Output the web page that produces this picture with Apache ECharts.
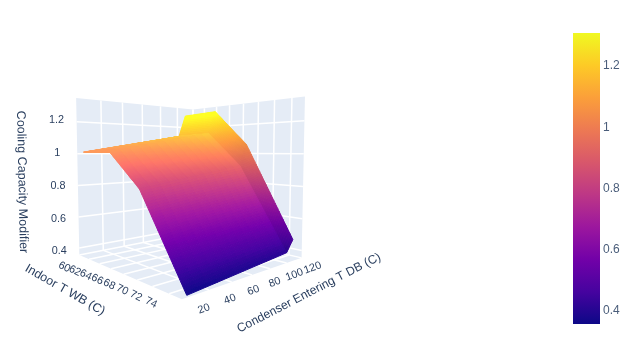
<!DOCTYPE html>
<html>
<head>
<meta charset="utf-8">
<style>html,body{margin:0;padding:0;background:#fff}#chart{width:627px;height:354px}</style>
<script src="https://cdn.jsdelivr.net/npm/echarts@6/dist/echarts.min.js"></script>
</head>
<body>
<div id="chart"></div>
<script>
// surface table
const indoorWB = [60, 65, 69.5, 75.2];
const condenserDB = [4, 102, 110];
const capacity = [
  [1.01, 1.01, 0.82, 0.3575],
  [1.13, 1.14, 0.92, 0.41],
  [1.29, 1.3, 1.06, 0.48]
];

const xTicks = [60, 62, 64, 66, 68, 70, 72, 74];
const yTicks = [20, 40, 60, 80, 100, 120];
const zTicks = [0.4, 0.6, 0.8, 1, 1.2];
const zTickLabels = ['0.4', '0.6', '0.8', '1', '1.2'];
const plasma = ['#0d0887', '#46039f', '#7201a8', '#9c179e', '#bd3786', '#d8576b', '#ed7953', '#fb9f3a', '#fdca26', '#f0f921'];

const xRange = [60, 75.4];
const yRange = [-1, 120];
const zRange = [0.3535, 1.346];
const colorRange = [0.3575, 1.308];
// rough lighting: the flat part is brighter than the steep part, the back strip is duller
const columnShade = [1.2, 1.18, 1.05, 1.02];
const rowShade = [1, 0.93];

const FONT = '"Liberation Sans", Arial, sans-serif';
const TEXT = '#2a3f5f';

// simple perspective camera around a [-1,1] cube
const cam = { az: (-45 + 2.6) * Math.PI / 180, el: 4 * Math.PI / 180, dist: 4.8, f: 383, cx: 189, cy: 178 };

function project(x, y, z) {
  const px = (x - xRange[0]) / (xRange[1] - xRange[0]) * 2 - 1;
  const py = (y - yRange[0]) / (yRange[1] - yRange[0]) * 2 - 1;
  const pz = (z - zRange[0]) / (zRange[1] - zRange[0]) * 2 - 1;
  const ca = Math.cos(cam.az), sa = Math.sin(cam.az), ce = Math.cos(cam.el), se = Math.sin(cam.el);
  const right = -sa * px + ca * py;
  const up = -se * ca * px - se * sa * py + ce * pz;
  const toward = ce * ca * px + ce * sa * py + se * pz;
  const depth = cam.dist - toward;
  return [cam.cx + cam.f * right / depth, cam.cy - cam.f * up / depth, depth];
}

function polyItem(corners, fill) {
  return { pts: corners.map(c => project(c[0], c[1], c[2])), fill: fill };
}

// walls and floor
const [x0, x1] = xRange, [y0, y1] = yRange, [z0, z1] = zRange;
const wallItems = [
  polyItem([[x0, y0, z0], [x0, y1, z0], [x0, y1, z1], [x0, y0, z1]], '#E5ECF6'),
  polyItem([[x0, y1, z0], [x1, y1, z0], [x1, y1, z1], [x0, y1, z1]], '#E5ECF6'),
  polyItem([[x0, y0, z0], [x1, y0, z0], [x1, y1, z0], [x0, y1, z0]], '#E5ECF6')
];

// grid lines
const gridLines = [];
xTicks.forEach(t => {
  gridLines.push([[t, y0, z0], [t, y1, z0]]);
  gridLines.push([[t, y1, z0], [t, y1, z1]]);
});
yTicks.forEach(t => {
  gridLines.push([[x0, t, z0], [x1, t, z0]]);
  gridLines.push([[x0, t, z0], [x0, t, z1]]);
});
zTicks.forEach(t => {
  gridLines.push([[x0, y0, t], [x0, y1, t]]);
  gridLines.push([[x0, y1, t], [x1, y1, t]]);
});
const lineItems = gridLines.map(l => ({ pts: l.map(c => project(c[0], c[1], c[2])) }));

// colour follows z
function colorFor(z, k) {
  const t = (z - colorRange[0]) / (colorRange[1] - colorRange[0]);
  const base = echarts.color.parse(echarts.color.lerp(Math.max(0, Math.min(1, t)), plasma));
  return 'rgb(' + [0, 1, 2].map(n => Math.min(255, Math.round(base[n] * k))).join(',') + ')';
}

// surface, split up finely so the colour can follow z
const SUB_X = 36, SUB_Y = 12;
const cells = [];
for (let j = 0; j < condenserDB.length - 1; j++) {
  for (let i = 0; i < indoorWB.length - 1; i++) {
    for (let a = 0; a < SUB_X; a++) {
      for (let b = 0; b < SUB_Y; b++) {
        const at = (u, v) => {
          const x = indoorWB[i] + (indoorWB[i + 1] - indoorWB[i]) * u;
          const y = condenserDB[j] + (condenserDB[j + 1] - condenserDB[j]) * v;
          const z = capacity[j][i] * (1 - u) * (1 - v) + capacity[j][i + 1] * u * (1 - v) +
            capacity[j + 1][i] * (1 - u) * v + capacity[j + 1][i + 1] * u * v;
          return [x, y, z];
        };
        const corners = [at(a / SUB_X, b / SUB_Y), at((a + 1) / SUB_X, b / SUB_Y), at((a + 1) / SUB_X, (b + 1) / SUB_Y), at(a / SUB_X, (b + 1) / SUB_Y)];
        const mid = at((a + 0.5) / SUB_X, (b + 0.5) / SUB_Y);
        const u = (a + 0.5) / SUB_X;
        const shade = (columnShade[i] * (1 - u) + columnShade[i + 1] * u) * rowShade[j];
        const item = polyItem(corners, colorFor(mid[2], shade));
        item.depth = project(mid[0], mid[1], mid[2])[2];
        cells.push(item);
      }
    }
  }
}
cells.sort((p, q) => q.depth - p.depth);

// tick labels and axis titles
const labels = [];
xTicks.forEach(t => {
  const p = project(t, y0, z0);
  const k = (t - 60) / 14;
  labels.push({ x: p[0] - 15 - 3 * k + 10 * k * (1 - k), y: p[1] + 12 - 3 * k, text: String(t), rot: -0.45, size: 10.8 });
});
yTicks.forEach(t => {
  const p = project(x1, t, z0);
  const k = (t - 20) / 100;
  labels.push({ x: p[0] - 5 + 16 * k, y: p[1] + 19 - 9 * k, text: String(t), rot: 0.35, size: 10.8 });
});
zTicks.forEach((t, i) => {
  const p = project(x0, y0, t);
  const k = (t - 0.4) / 0.8;
  labels.push({ x: p[0] - 20, y: p[1] + 3 - 4.5 * k, text: zTickLabels[i], rot: 0, size: 10.8 });
});
labels.push({ x: 65, y: 290, text: 'Indoor T WB (C)', rot: -0.52, size: 12.4 });
labels.push({ x: 309, y: 293, text: 'Condenser Entering T DB (C)', rot: 0.477, size: 12.2 });
labels.push({ x: 22, y: 182, text: 'Cooling Capacity Modifier', rot: -1.55, size: 12.5 });

function polySeries(items, width) {
  return {
    type: 'custom',
    coordinateSystem: 'cartesian2d',
    xAxisIndex: 0,
    yAxisIndex: 0,
    silent: true,
    animation: false,
    clip: false,
    data: items.map((_, i) => [i]),
    renderItem: (params, api) => {
      const it = items[params.dataIndex];
      return {
        type: 'polygon',
        shape: { points: it.pts.map(p => api.coord([p[0], p[1]])) },
        style: { fill: it.fill, stroke: it.fill, lineWidth: width, lineJoin: 'round' }
      };
    }
  };
}

const option = {
  animation: false,
  backgroundColor: '#fff',
  grid: [
    { left: 0, top: 0, width: 627, height: 354 },
    { left: 573, top: 33, width: 27, height: 291 }
  ],
  xAxis: [
    { type: 'value', gridIndex: 0, min: 0, max: 627, show: false },
    { type: 'value', gridIndex: 1, min: 0, max: 1, show: false }
  ],
  yAxis: [
    { type: 'value', gridIndex: 0, min: 0, max: 354, inverse: true, show: false },
    {
      type: 'value',
      gridIndex: 1,
      position: 'right',
      min: colorRange[0],
      max: colorRange[1],
      splitLine: { show: false },
      axisLine: { show: false },
      axisTick: { show: false },
      axisLabel: {
        customValues: zTicks,
        formatter: v => String(Math.round(v * 10) / 10),
        color: '#4a5d7a',
        fontFamily: FONT,
        fontSize: 12,
        margin: 3
      }
    }
  ],
  series: [
    polySeries(wallItems, 0),
    {
      type: 'custom',
      xAxisIndex: 0,
      yAxisIndex: 0,
      silent: true,
      clip: false,
      data: lineItems.map((_, i) => [i]),
      renderItem: (params, api) => {
        const it = lineItems[params.dataIndex];
        const a = api.coord(it.pts[0]), b = api.coord(it.pts[1]);
        return {
          type: 'line',
          shape: { x1: a[0], y1: a[1], x2: b[0], y2: b[1] },
          style: { stroke: '#fff', lineWidth: 1.5 }
        };
      }
    },
    polySeries(cells, 1),
    {
      type: 'custom',
      xAxisIndex: 0,
      yAxisIndex: 0,
      silent: true,
      clip: false,
      data: labels.map((_, i) => [i]),
      renderItem: (params, api) => {
        const l = labels[params.dataIndex];
        const c = api.coord([l.x, l.y]);
        return {
          type: 'text',
          x: c[0],
          y: c[1],
          rotation: l.rot,
          style: {
            text: l.text,
            fill: TEXT,
            font: l.size + 'px ' + FONT,
            align: 'center',
            verticalAlign: 'middle'
          }
        };
      }
    },
    {
      // colour bar
      type: 'custom',
      xAxisIndex: 1,
      yAxisIndex: 1,
      silent: true,
      data: [[0, colorRange[0], 1, colorRange[1]]],
      renderItem: (params, api) => {
        const a = api.coord([api.value(0), api.value(3)]);
        const b = api.coord([api.value(2), api.value(1)]);
        return {
          type: 'rect',
          shape: { x: a[0], y: a[1], width: b[0] - a[0], height: b[1] - a[1] },
          style: {
            fill: new echarts.graphic.LinearGradient(0, 1, 0, 0, plasma.map((c, i) => ({ offset: i / (plasma.length - 1), color: c })))
          }
        };
      }
    }
  ]
};

const chart = echarts.init(document.getElementById('chart'), null, { renderer: 'canvas' });
chart.setOption(option);
</script>
</body>
</html>
